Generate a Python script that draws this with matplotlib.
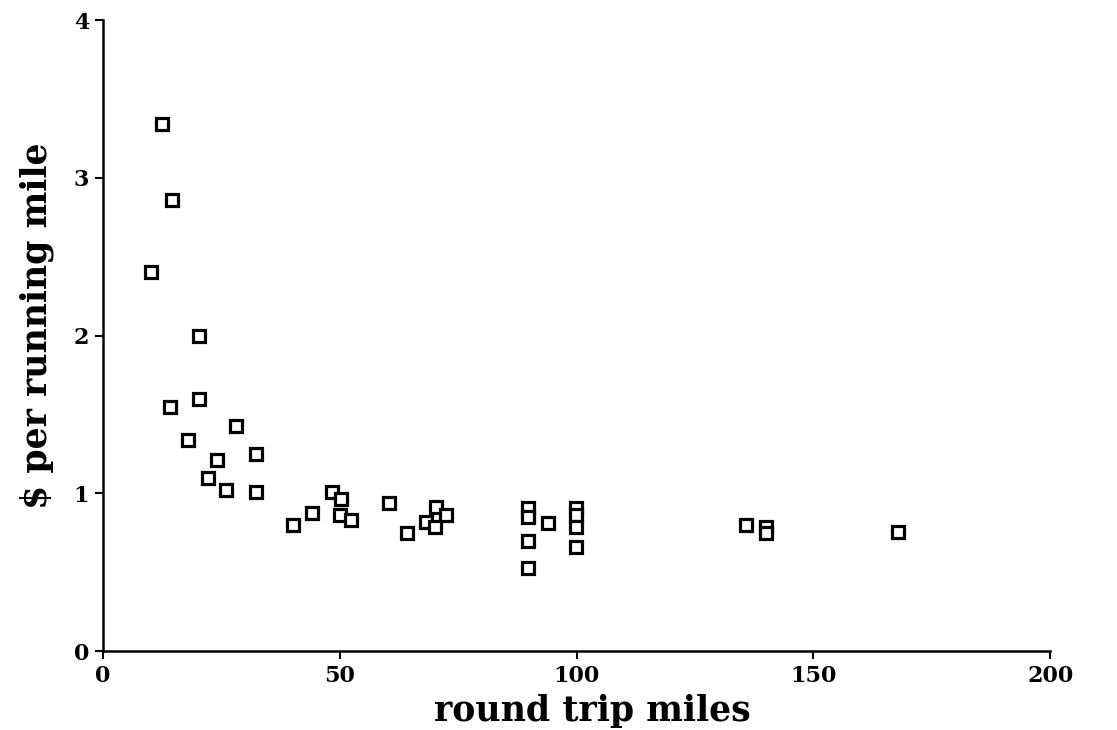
import matplotlib.pyplot as plt

# round trip miles vs $ per running mile
miles = [12.5, 14.6, 10.1, 20.3, 14.2, 20.3, 28.1, 18.0, 24.1, 32.3, 22.2, 26.0, 32.3,
         40.2, 44.2, 48.3, 50.3, 50.1, 52.3, 60.3, 64.1, 68.2, 70.3, 72.4, 70.1,
         89.8, 89.8, 89.8, 89.8, 94.0,
         99.9, 99.9, 99.9, 99.9,
         135.8, 140.0, 140.0, 167.8]
cost = [3.34, 2.86, 2.40, 2.00, 1.55, 1.60, 1.43, 1.34, 1.21, 1.25, 1.10, 1.02, 1.01,
        0.80, 0.873, 1.006, 0.962, 0.862, 0.830, 0.936, 0.746, 0.820, 0.915, 0.862, 0.788,
        0.906, 0.849, 0.70, 0.524, 0.81,
        0.91, 0.86, 0.79, 0.66,
        0.80, 0.79, 0.75, 0.753]

xticks = [0, 50, 100, 150, 200]
yticks = [0, 1, 2, 3, 4]

plt.rcParams['font.family'] = ['DejaVu Serif']
plt.rcParams['font.weight'] = 'bold'

fig = plt.figure(figsize=(11.17, 7.30), dpi=100)
ax = fig.add_axes([0.0922, 0.108, 0.848, 0.8646])

ax.plot(miles, cost, ls="none", marker="s", markersize=8.8, markerfacecolor="white",
        markeredgecolor="black", markeredgewidth=2.3)

ax.set_xlim(0, 200)
ax.set_ylim(0, 4)
ax.set_xticks(xticks)
ax.set_yticks(yticks)
ax.spines["top"].set_visible(False)
ax.spines["right"].set_visible(False)
ax.spines["left"].set_linewidth(1.8)
ax.spines["bottom"].set_linewidth(1.8)
ax.tick_params(length=6, width=1.5, labelsize=16, pad=4)
for lab in ax.get_xticklabels() + ax.get_yticklabels():
    lab.set_fontweight("bold")

ax.set_xlabel("round trip miles", fontsize=25, fontweight="bold")
ax.set_ylabel("$ per running mile", fontsize=25, fontweight="bold")
ax.xaxis.set_label_coords(0.517, -0.068)
ax.yaxis.set_label_coords(-0.052, 0.515)

fig.savefig("out.png", dpi=100)
